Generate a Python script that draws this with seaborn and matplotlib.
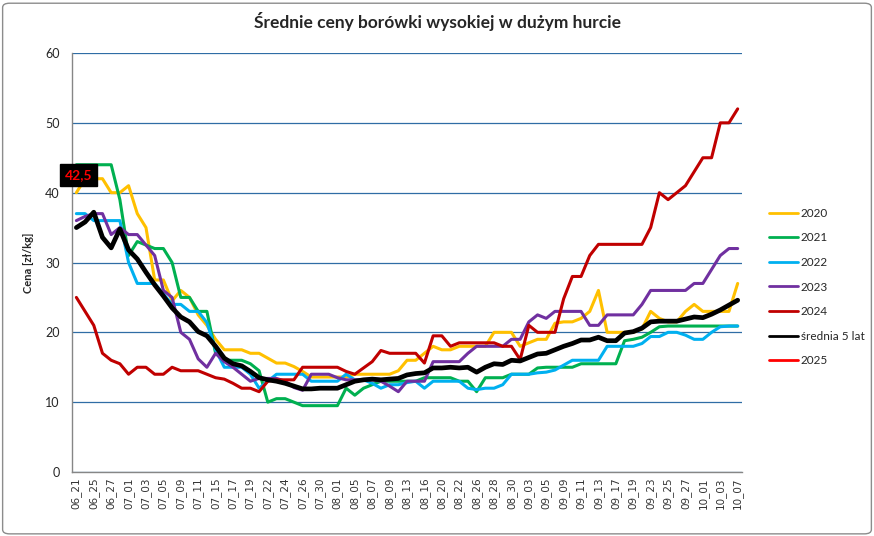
import matplotlib
matplotlib.use('Agg')
import matplotlib.pyplot as plt
import matplotlib.patches as mpatches
import seaborn as sns

# categories (every second one is labelled on the axis)
dates = ['06_21', '06_23', '06_25', '06_26', '06_27', '06_30', '07_01', '07_02', '07_03', '07_04',
         '07_05', '07_08', '07_09', '07_10', '07_11', '07_12', '07_15', '07_16', '07_17', '07_18',
         '07_19', '07_21', '07_22', '07_23', '07_24', '07_25', '07_26', '07_29', '07_30', '07_31',
         '08_01', '08_02', '08_05', '08_06', '08_07', '08_08', '08_09', '08_12', '08_13', '08_14',
         '08_16', '08_19', '08_20', '08_21', '08_22', '08_23', '08_26', '08_27', '08_28', '08_29',
         '08_30', '09_02', '09_03', '09_04', '09_05', '09_06', '09_09', '09_10', '09_11', '09_12',
         '09_13', '09_16', '09_17', '09_18', '09_19', '09_20', '09_23', '09_24', '09_25', '09_26',
         '09_27', '09_30', '10_01', '10_02', '10_03', '10_04', '10_07']

y2020 = [40, 42, 42, 42, 40, 40, 41, 37, 35, 27.5,
         27.5, 24.5, 26, 25, 22.5, 21, 19, 17.5, 17.5, 17.5,
         17, 17, 16.3, 15.6, 15.6, 15.1, 14.4, 13.6, 13.6, 13.6,
         13.6, 13.6, 14, 14, 14, 14, 14, 14.5, 16, 16,
         17, 18, 17.5, 17.5, 18, 18, 18, 18, 20, 20,
         20, 18, 18.5, 19, 19, 21.3, 21.5, 21.5, 22, 23,
         26, 20, 20, 20, 20, 20.5, 23, 22, 21.5, 21.5,
         23, 24, 23, 23, 23, 23, 27]
y2021 = [44, 44, 44, 44, 44, 39, 31, 33, 32.5, 32,
         32, 30, 25, 25, 23, 23, 17, 16, 16, 16,
         15.5, 14.5, 10, 10.5, 10.5, 10, 9.5, 9.5, 9.5, 9.5,
         9.5, 12, 11, 12, 12.5, 13, 13, 13, 13, 13,
         13.5, 13.5, 13.5, 13.5, 13, 13, 11.5, 13.5, 13.5, 13.5,
         14, 14, 14, 14.9, 15, 15, 15, 15, 15.5, 15.5,
         15.5, 15.5, 15.5, 18.8, 19, 19.3, 20, 20.8, 20.9, 20.9,
         20.9, 20.9, 20.9, 20.9, 20.9, 20.9, 20.9]
y2022 = [37, 37, 36, 36, 36, 36, 30, 27, 27, 27,
         25.5, 24, 24, 23, 23, 21.4, 17.5, 15, 15, 15,
         14, 12, 13, 14, 14, 14, 14, 13, 13, 13,
         13, 14, 13.2, 13.2, 12.7, 12, 12.5, 12.5, 12.8, 13,
         12, 13, 13, 13, 13, 12, 11.8, 12, 12, 12.5,
         14, 14, 14, 14.2, 14.3, 14.6, 15.3, 16, 16, 16,
         16, 18, 18, 18, 18, 18.4, 19.4, 19.4, 20, 20,
         19.6, 19, 19, 20, 20.8, 20.9, 20.9]
y2023 = [36, 36.6, 37, 37, 34, 35, 34, 34, 32.5, 31,
         26, 25, 20, 19, 16.2, 15, 17, 15.8, 15, 14,
         13, 13.4, 13.4, 13.4, 13, 12.1, 11.7, 14, 14, 14,
         13.5, 13.2, 13.2, 13.2, 13.2, 13, 12.3, 11.5, 13, 13,
         13, 15.8, 15.8, 15.8, 15.8, 17, 18, 18, 18, 18,
         19, 19, 21.5, 22.5, 22, 23, 23, 23, 23, 21,
         21, 22.5, 22.5, 22.5, 22.5, 24, 26, 26, 26, 26,
         26, 27, 27, 29, 31, 32, 32]
y2024 = [25, 23, 21, 17, 16, 15.5, 14, 15, 15, 14,
         14, 15, 14.5, 14.5, 14.5, 14, 13.5, 13.3, 12.7, 12,
         12, 11.5, 13, 13.2, 13.2, 13.2, 15, 15, 15, 15,
         15, 14.4, 14, 14.9, 15.8, 17.4, 17, 17, 17, 17,
         15.6, 19.5, 19.5, 18, 18.5, 18.5, 18.5, 18.5, 18.5, 18,
         18, 16.1, 21, 20, 20, 20, 24.8, 28, 28, 31,
         32.6, 32.6, 32.6, 32.6, 32.6, 32.6, 35, 40, 39, 40,
         41, 43, 45, 45, 50, 50, 52]
y_avg = [35, 35.8, 37.2, 33.6, 32.1, 34.8, 31.8, 30.5, 28.6, 26.8,
         25.2, 23.5, 22.2, 21.5, 20.1, 19.5, 18, 16.3, 15.5, 15.2,
         14.4, 13.5, 13.2, 13, 12.7, 12.3, 11.9, 11.9, 12, 12,
         12, 12.5, 13, 13.2, 13.3, 13.2, 13.3, 13.4, 13.9, 14.1,
         14.2, 14.9, 14.9, 15, 14.9, 15, 14.3, 15, 15.5, 15.4,
         16, 15.9, 16.4, 16.9, 17, 17.5, 18, 18.4, 18.9, 18.9,
         19.3, 18.8, 18.8, 19.9, 20.1, 20.6, 21.5, 21.6, 21.6, 21.6,
         21.9, 22.2, 22.1, 22.6, 23.2, 23.9, 24.6]
y2025 = [42.5]

series = [
    ('2020', y2020, '#FFC000', 2.2),
    ('2021', y2021, '#00B050', 2.2),
    ('2022', y2022, '#00B0F0', 2.2),
    ('2023', y2023, '#7030A0', 2.2),
    ('2024', y2024, '#C00000', 2.2),
    ('średnia 5 lat', y_avg, '#000000', 3.4),
    ('2025', y2025, '#FF0000', 2.2),
]

sns.set_style('white')
plt.rcParams['font.family'] = ['Lato', 'DejaVu Sans']

fig = plt.figure(figsize=(8.74, 5.36), dpi=100)
ax = fig.add_axes([0.0824, 0.1194, 0.7666, 0.7817])

for name, vals, col, lw in series:
    sns.lineplot(x=dates[:len(vals)], y=vals, color=col, linewidth=lw, label=name, ax=ax)

# data label for the single 2025 value
ax.text(0.25, y2025[0], '42,5', color='#FF0000', fontsize=10, fontweight='bold',
        ha='center', va='center',
        bbox=dict(boxstyle='square,pad=0.35', facecolor='black', edgecolor='black'))

ax.set_xlim(-0.5, len(dates) - 0.5)
ax.set_ylim(0, 60)
ax.set_yticks(range(0, 61, 10))
ax.set_xticks(range(0, len(dates), 2))
ax.set_xticklabels(dates[::2], rotation=90, fontsize=7.5, family='DejaVu Sans', color='#333333')
ax.tick_params(axis='y', labelsize=9, length=0, pad=9)
ax.tick_params(axis='x', length=0, pad=4)
ax.yaxis.grid(True, color='#2F6DA5', linewidth=0.9)
ax.xaxis.grid(False)
ax.set_axisbelow(True)
for s in ['top', 'right']:
    ax.spines[s].set_visible(False)
for s in ['left', 'bottom']:
    ax.spines[s].set_color('#868686')
    ax.spines[s].set_linewidth(1)

ax.set_xlabel('')
ax.set_ylabel('Cena [zł/kg]', fontsize=8, fontweight='bold', labelpad=8)

fig.suptitle('Średnie ceny borówki wysokiej w dużym hurcie', fontsize=12.5, fontweight='bold',
             y=0.977)

handles, labels = ax.get_legend_handles_labels()
leg = ax.legend(handles, labels, loc='upper left', bbox_to_anchor=(0.868, 0.632),
                bbox_transform=fig.transFigure, frameon=False, fontsize=8.5,
                handlelength=2.4, handletextpad=0.25, labelspacing=1.15)
for h in leg.get_lines():
    h.set_linewidth(2)

fig.add_artist(mpatches.FancyBboxPatch((0.003, 0.004), 0.994, 0.99,
                                       boxstyle='round,pad=0,rounding_size=0.008',
                                       transform=fig.transFigure, fill=False,
                                       edgecolor='#8c8c8c', linewidth=1))

fig.savefig('out.png', dpi=100)
